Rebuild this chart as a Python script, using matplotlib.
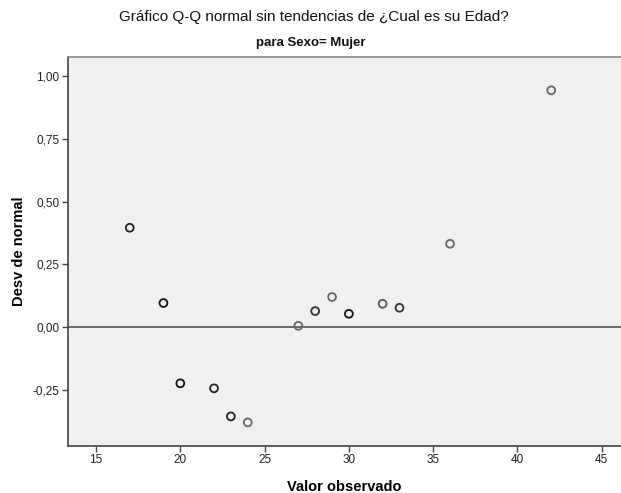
import matplotlib
matplotlib.use("Agg")
import matplotlib.pyplot as plt
from matplotlib.ticker import FuncFormatter

# Data
valor_observado = [17, 19, 20, 22, 23, 24, 27, 28, 29, 30, 32, 33, 36, 42]
desv_normal = [0.396, 0.096, -0.224, -0.244, -0.356, -0.380, 0.005, 0.064,
               0.120, 0.053, 0.093, 0.077, 0.332, 0.944]
edge_colors = ["#222222", "#111111", "#111111", "#222222", "#222222", "#666666",
               "#666666", "#333333", "#666666", "#111111", "#555555", "#333333",
               "#666666", "#666666"]
x_ticks = [15, 20, 25, 30, 35, 40, 45]
y_ticks = [-0.25, 0.0, 0.25, 0.5, 0.75, 1.0]

plt.rcParams['font.family'] = ['Liberation Sans', 'DejaVu Sans']

fig = plt.figure(figsize=(6.21, 4.93), dpi=100)
fig.patch.set_facecolor("white")
ax = fig.add_axes([0.109, 0.0953, 0.891, 0.7887])
ax.set_facecolor("#f0f0f0")

ax.axhline(0, color="#555555", linewidth=1.2, zorder=1)
ax.scatter(valor_observado, desv_normal, s=32, facecolors="none",
           edgecolors=edge_colors, linewidths=1.3, zorder=3)

ax.set_xlim(13.32, 46.14)
ax.set_ylim(-0.474, 1.076)
ax.set_xticks(x_ticks)
ax.set_yticks(y_ticks)
ax.yaxis.set_major_formatter(FuncFormatter(lambda v, p: f"{v:.2f}".replace(".", ",")))

for s in ["left", "bottom"]:
    ax.spines[s].set_color("#444444")
    ax.spines[s].set_linewidth(1.2)
ax.spines["top"].set_color("#888888")
ax.spines["top"].set_linewidth(1.2)
ax.spines["right"].set_visible(False)

ax.tick_params(axis="both", direction="out", length=4, width=1, color="#444444",
               labelsize=8.5, labelcolor="#222222", pad=2)

ax.set_xlabel("Valor observado", fontsize=10.5, fontweight="bold", labelpad=10)
ax.set_ylabel("Desv de normal", fontsize=10.5, fontweight="bold", labelpad=5)

fig.text(0.505, 0.965, "Gráfico Q-Q normal sin tendencias de ¿Cual es su Edad?",
         ha="center", va="center", fontsize=11, color="#111111")
fig.text(0.5, 0.912, "para Sexo= Mujer", ha="center", va="center",
         fontsize=9.5, fontweight="bold", color="#111111")

fig.savefig("out.png", dpi=100)
